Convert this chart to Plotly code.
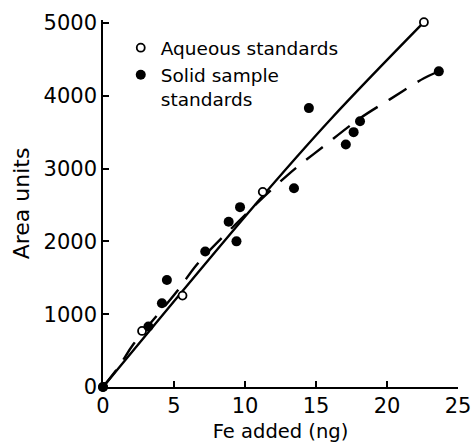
import plotly.graph_objects as go

# Aqueous standards (open circles)
aq_x = [0, 2.75, 5.6, 11.25, 22.6]
aq_y = [0, 770, 1255, 2680, 5010]

# Solid sample standards (filled circles)
sol_x = [0, 3.2, 4.15, 4.5, 7.2, 8.85, 9.4, 9.65, 13.45, 14.5, 17.1, 17.65, 18.1, 23.65]
sol_y = [0, 830, 1150, 1470, 1860, 2270, 2000, 2470, 2730, 3830, 3330, 3500, 3650, 4335]

# Solid line (aqueous calibration)
aql_x = [0, 10.7, 16.0, 22.6]
aql_y = [0, 2500, 3670, 5010]

# Dashed curve (solid-sample calibration)
soll_x = [0, 1.15, 2.15, 5.2, 6.6, 9.0, 13.0, 15.6, 18.1, 20.2, 22.6, 23.65]
soll_y = [0, 290, 590, 1310, 1680, 2170, 2910, 3315, 3690, 3950, 4240, 4335]

x_ticks = [0, 5, 10, 15, 20, 25]
y_ticks = [0, 1000, 2000, 3000, 4000, 5000]

FONT = "DejaVu Sans"

fig = go.Figure()
fig.add_trace(go.Scatter(x=aql_x, y=aql_y, mode="lines", line=dict(color="black", width=2.4),
                         showlegend=False, cliponaxis=False, line_shape="spline"))
fig.add_trace(go.Scatter(x=soll_x, y=soll_y, mode="lines",
                         line=dict(color="black", width=2.4, dash="21px,13px"),
                         line_shape="spline", showlegend=False, cliponaxis=False))
fig.add_trace(go.Scatter(x=aq_x, y=aq_y, mode="markers", name="Aqueous standards",
                         marker=dict(symbol="circle", size=8, color="white",
                                     line=dict(color="black", width=1.8)),
                         cliponaxis=False))
fig.add_trace(go.Scatter(x=sol_x, y=sol_y, mode="markers", name="Solid sample<br>standards",
                         marker=dict(symbol="circle", size=10, color="black",
                                     line=dict(color="black", width=0)),
                         cliponaxis=False))

fig.update_layout(
    width=473, height=443,
    margin=dict(l=103, r=15, t=20, b=56, autoexpand=False),
    paper_bgcolor="white", plot_bgcolor="white",
    font=dict(family=FONT, color="black", size=20),
    legend=dict(x=0.05, y=0.975, xanchor="left", yanchor="top",
                font=dict(size=18.5, family=FONT), bgcolor="rgba(0,0,0,0)",
                itemsizing="trace", valign="top", tracegroupgap=0, itemwidth=30),
    xaxis=dict(range=[0, 25], tickvals=x_ticks, ticktext=[str(v) for v in x_ticks],
               automargin=False,
               showgrid=False, zeroline=False, showline=True, linecolor="black", linewidth=1.5,
               ticks="inside", ticklen=6, tickwidth=1.5, tickcolor="black", ticklabelstandoff=-1,
               tickfont=dict(size=21), title=dict(text="Fe added (ng)", font=dict(size=19.5), standoff=9)),
    yaxis=dict(range=[0, 5040], tickvals=y_ticks, ticktext=[str(v) for v in y_ticks],
               automargin=False,
               showgrid=False, zeroline=False, showline=True, linecolor="black", linewidth=1.5,
               ticks="inside", ticklen=6, tickwidth=1.5, tickcolor="black",
               tickfont=dict(size=21), title=dict(text="Area units", font=dict(size=22), standoff=8)),
)

fig.write_html("out.html", config={"displayModeBar": False},
               post_script="document.body.style.margin='0';document.body.style.overflow='hidden';")
